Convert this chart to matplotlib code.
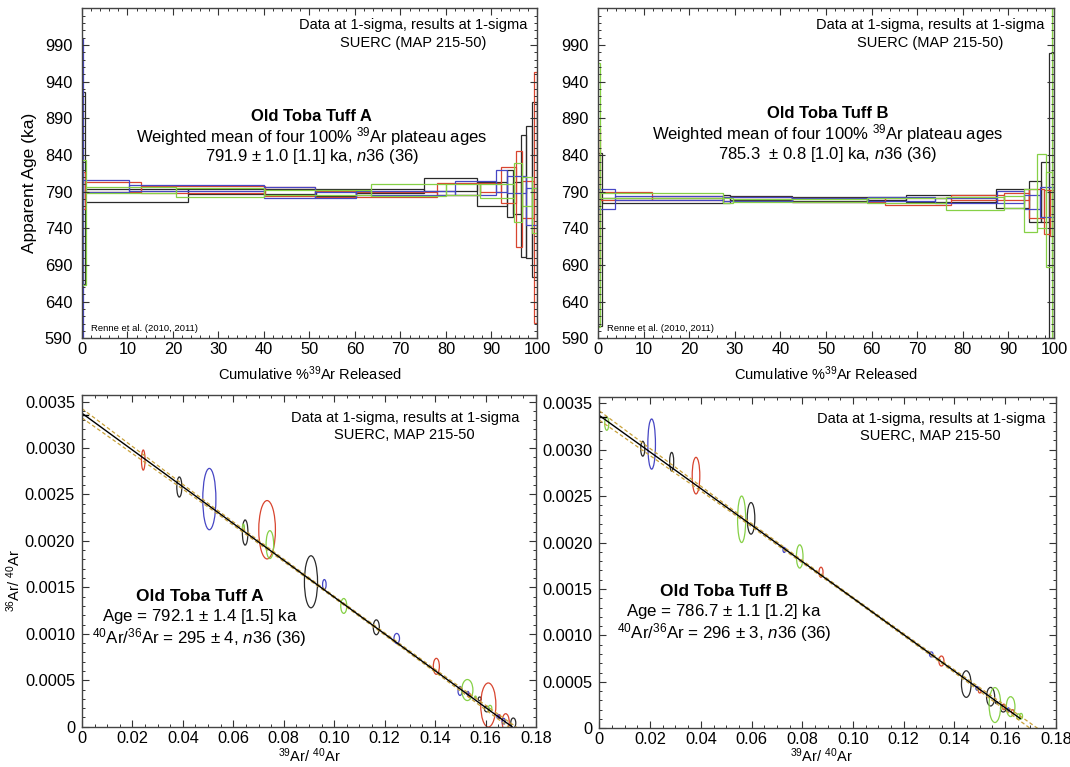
import numpy as np
import matplotlib
matplotlib.use('Agg')
import matplotlib.pyplot as plt
from matplotlib.patches import Rectangle, Ellipse
from matplotlib.ticker import MultipleLocator, FixedLocator, FuncFormatter

plt.rcParams['font.family'] = ['Liberation Sans', 'DejaVu Sans']
plt.rcParams['mathtext.fontset'] = 'custom'
plt.rcParams['mathtext.rm'] = 'Liberation Sans'
plt.rcParams['mathtext.it'] = 'Liberation Sans:italic'

BLACK = '#2a2a2a'
RED = '#d8452f'
BLUE = '#4646c4'
GREEN = '#86d046'
GOLD = '#c9a23a'

#----- age spectra, Old Toba Tuff A (cum % 39Ar edges, age ka, 1s err) -----
A_black_edges = [0, 0.7, 23.4, 51.4, 60.3, 75.2, 86.8, 93.4, 94.8, 96.6, 97.6, 99.0, 100]
A_black_age = [795, 784.5, 790, 789, 791, 799.5, 787, 788, 781, 784, 789, 793]
A_black_err = [131, 8.5, 3, 5, 2.5, 8.5, 16, 32, 22, 83, 90, 120]

A_red_edges = [0, 0.7, 12.9, 40.2, 51.3, 60.3, 78.0, 87.5, 92.2, 95.5, 96.7, 99.4, 100]
A_red_age = [792, 796, 793, 790, 787, 786, 794, 796, 799, 780, 779, 782]
A_red_err = [25, 7, 5, 6, 4, 3.5, 8, 6, 24, 65, 25, 171]

A_blue_edges = [0, 0.3, 10.3, 40.0, 51.3, 60.3, 82.0, 90.9, 93.5, 97.6, 100]
A_blue_age = [795, 798, 795, 789, 785, 788, 795, 804, 800, 770]
A_blue_err = [205, 8, 4.5, 7, 4, 3, 10, 15, 12, 25]

A_green_edges = [0, 0.8, 20.7, 40.0, 63.5, 80.0, 87.5, 95.0, 96.7, 99.0, 100]
A_green_age = [748, 792, 789, 789, 792.5, 793, 791, 789, 790, 764]
A_green_err = [85, 4, 6, 3, 8.5, 8, 9, 40, 20, 31]

#----- age spectra, Old Toba Tuff B -----
B_black_edges = [0, 0.8, 27.3, 29.0, 42.5, 59.0, 67.5, 87.3, 94.5, 97.2, 98.8, 100]
B_black_age = [725, 778, 780, 781, 780, 781, 780.5, 781, 777, 790, 780]
B_black_err = [118, 4, 6, 3, 3, 2, 4.5, 13, 28, 41, 199]

B_red_edges = [0, 0.4, 11.8, 27.5, 42.5, 63.0, 77.5, 89.0, 94.5, 97.7, 99.2, 100]
B_red_age = [780, 784, 781, 780, 779, 776.5, 782, 783, 773.5, 762.5, 761]
B_red_err = [95, 6, 3, 3, 3, 5, 4, 5, 19.5, 30, 31]

B_blue_edges = [0, 3.7, 27.3, 42.5, 59.2, 74.0, 87.5, 93.5, 97.0, 100]
B_blue_age = [780, 781, 780, 779, 780, 778, 783, 776, 776]
B_blue_err = [13, 3, 3, 3, 3, 3.5, 8.5, 10, 20]

B_green_edges = [0, 0.4, 27.5, 29.5, 59.0, 76.3, 89.0, 93.5, 96.3, 98.2, 99.5, 100]
B_green_age = [785, 784.5, 778.5, 778, 778, 773.7, 776, 764.5, 790.5, 752, 800]
B_green_err = [180, 3, 3.5, 2, 3, 9.3, 8, 29.5, 50.5, 65, 250]

#----- isochron data, Old Toba Tuff A (39/40, 36/40, half widths) -----
iA_black_x = [0.0386, 0.0647, 0.0908, 0.1167, 0.1577, 0.1605, 0.1710]
iA_black_y = [0.00258, 0.00209, 0.00156, 0.00107, 0.00030, 0.00019, 0.00004]
iA_black_sx = [0.0010, 0.0011, 0.0026, 0.0012, 0.0006, 0.0009, 0.0010]
iA_black_sy = [0.000108, 0.000135, 0.00028, 0.00008, 0.00002, 0.00003, 0.000054]

iA_red_x = [0.0243, 0.0734, 0.1405, 0.1535, 0.1611, 0.1680, 0.1655]
iA_red_y = [0.00287, 0.00212, 0.00065, 0.00034, 0.000234, 0.00005, 0.00011]
iA_red_sx = [0.0007, 0.0033, 0.0012, 0.0005, 0.0030, 0.0014, 0.0004]
iA_red_sy = [0.000108, 0.000314, 0.000086, 0.00002, 0.000237, 0.00009, 0.00002]

iA_blue_x = [0.0505, 0.0961, 0.1248, 0.1499, 0.1530, 0.1650, 0.1672]
iA_blue_y = [0.00245, 0.00153, 0.00095, 0.000385, 0.00036, 0.000108, 0.00006]
iA_blue_sx = [0.0026, 0.0007, 0.0011, 0.0008, 0.0004, 0.0005, 0.0006]
iA_blue_sy = [0.00033, 0.000054, 0.000054, 0.000048, 0.00002, 0.00002, 0.00003]

iA_green_x = [0.0640, 0.0745, 0.1038, 0.1528, 0.1618, 0.1560]
iA_green_y = [0.00214, 0.00196, 0.0013, 0.000395, 0.0002, 0.00032]
iA_green_sx = [0.0004, 0.0015, 0.0012, 0.0022, 0.0007, 0.0003]
iA_green_sy = [0.00004, 0.00015, 0.00008, 0.000113, 0.00003, 0.00001]

#----- isochron data, Old Toba Tuff B -----
iB_black_x = [0.0171, 0.0285, 0.0598, 0.1447, 0.1543, 0.1566, 0.1593]
iB_black_y = [0.00301, 0.00287, 0.00226, 0.000476, 0.00034, 0.000276, 0.000215]
iB_black_sx = [0.0008, 0.0008, 0.0015, 0.0019, 0.0016, 0.0004, 0.0011]
iB_black_sy = [0.00008, 0.0001, 0.00017, 0.000143, 0.0001, 0.00001, 0.00004]

iB_red_x = [0.0381, 0.0874, 0.1349, 0.1500, 0.1595, 0.1630]
iB_red_y = [0.00272, 0.00168, 0.000724, 0.0004, 0.00023, 0.00018]
iB_red_sx = [0.0015, 0.0008, 0.0010, 0.0005, 0.0006, 0.0005]
iB_red_sy = [0.000197, 0.000054, 0.000054, 0.00002, 0.00003, 0.00002]

iB_blue_x = [0.0206, 0.0729, 0.1309, 0.1490, 0.1613]
iB_blue_y = [0.00306, 0.00192, 0.000795, 0.00043, 0.0002]
iB_blue_sx = [0.0015, 0.0005, 0.0007, 0.0005, 0.0004]
iB_blue_sy = [0.00027, 0.000027, 0.000027, 0.00002, 0.00002]

iB_green_x = [0.0029, 0.0561, 0.0790, 0.1560, 0.1622, 0.1653, 0.1663]
iB_green_y = [0.00328, 0.00225, 0.00185, 0.00025, 0.000233, 0.000125, 0.00013]
iB_green_sx = [0.0008, 0.0016, 0.0013, 0.0023, 0.0017, 0.0007, 0.0006]
iB_green_sy = [0.0000716, 0.00025, 0.000125, 0.000188, 0.000107, 0.00003, 0.00003]

# isochron fits: y-intercept (36/40), x-intercept (39/40), end of solid line
fitA = [0.003374, 0.1705, 0.1705]
fitB = [0.003367, 0.1713, 0.1660]
# error envelope (gold dashed), x positions and offsets from the fit line
envA_x = [0.0, 0.05, 0.10, 0.14, 0.1725]
envA_off = [0.00005, 0.00002, 0.00001, 0.000015, 0.00003]
envB_x = [0.0, 0.05, 0.10, 0.14, 0.1730]
envB_off = [0.00005, 0.00002, 0.00001, 0.000015, 0.00003]

TICK_FS = 11.8
NOTE_FS = 10.5
TITLE_FS = 12


def style_ax(ax):
    for s in ax.spines.values():
        s.set_color('#444444')
        s.set_linewidth(1.0)
    ax.tick_params(which='both', direction='in', top=True, right=True,
                   color='#333333', labelsize=TICK_FS)
    ax.tick_params(which='major', length=5, width=0.8)
    ax.tick_params(which='minor', length=2.5, width=0.7)


def spectrum(ax, edges, ages, errs, col):
    for i in range(len(ages)):
        r = Rectangle((edges[i], ages[i]-errs[i]), edges[i+1]-edges[i], 2*errs[i],
                      fill=False, edgecolor=col, lw=0.9)
        ax.add_patch(r)


def ellipses(ax, xs, ys, sx, sy, col):
    for i in range(len(xs)):
        e = Ellipse((xs[i], ys[i]), 2*sx[i], 2*sy[i], fill=False, edgecolor=col, lw=0.9)
        ax.add_patch(e)


fig = plt.figure(figsize=(10.7, 7.67), dpi=100)
axTL = fig.add_axes([0.0766, 0.559, 0.4252, 0.430])
axTR = fig.add_axes([0.5589, 0.559, 0.4262, 0.430])
axBL = fig.add_axes([0.0766, 0.0525, 0.4243, 0.4325])
axBR = fig.add_axes([0.5602, 0.0505, 0.4265, 0.4323])

#----- top panels: spectra -----
specs = [
    (axTL, [(A_black_edges, A_black_age, A_black_err, BLACK), (A_red_edges, A_red_age, A_red_err, RED),
            (A_blue_edges, A_blue_age, A_blue_err, BLUE), (A_green_edges, A_green_age, A_green_err, GREEN)],
     'SUERC (MAP 215-50)'),
    (axTR, [(B_black_edges, B_black_age, B_black_err, BLACK), (B_red_edges, B_red_age, B_red_err, RED),
            (B_blue_edges, B_blue_age, B_blue_err, BLUE), (B_green_edges, B_green_age, B_green_err, GREEN)],
     'SUERC (MAP 215-50)'),
]
for ax, runs, lab in specs:
    for ed, ag, er, c in runs:
        spectrum(ax, ed, ag, er, c)
    ax.set_xlim(0, 100)
    ax.set_ylim(590, 1040)
    ax.xaxis.set_major_locator(MultipleLocator(10))
    ax.xaxis.set_minor_locator(MultipleLocator(2))
    ax.yaxis.set_major_locator(FixedLocator(np.arange(590, 1000, 50)))
    ax.yaxis.set_minor_locator(MultipleLocator(10))
    style_ax(ax)
    ax.tick_params(axis='y', pad=7)
    ax.tick_params(axis='x', pad=3)
    ax.set_xlabel(r'Cumulative %$^{39}$Ar Released', fontsize=10.5)
    ax.xaxis.set_label_coords(0.5, -0.078)
    ax.text(0.728, 0.950, 'Data at 1-sigma, results at 1-sigma', transform=ax.transAxes,
            ha='center', va='center', fontsize=NOTE_FS)
    ax.text(0.728, 0.895, lab, transform=ax.transAxes, ha='center', va='center', fontsize=NOTE_FS)
    ax.text(0.02, 0.031, 'Renne et al. (2010, 2011)', transform=ax.transAxes,
            ha='left', va='center', fontsize=6.8)

axTL.text(0.505, 0.672, 'Old Toba Tuff A', transform=axTL.transAxes, ha='center', va='center',
          fontsize=TITLE_FS, fontweight='bold')
axTL.text(0.505, 0.611, r'Weighted mean of four 100% $^{39}$Ar plateau ages', transform=axTL.transAxes,
          ha='center', va='center', fontsize=TITLE_FS)
axTL.text(0.505, 0.551, r'791.9 $\pm$ 1.0 [1.1] ka, $n$36 (36)', transform=axTL.transAxes,
          ha='center', va='center', fontsize=TITLE_FS)
axTR.text(0.503, 0.681, 'Old Toba Tuff B', transform=axTR.transAxes, ha='center', va='center',
          fontsize=TITLE_FS, fontweight='bold')
axTR.text(0.503, 0.620, r'Weighted mean of four 100% $^{39}$Ar plateau ages', transform=axTR.transAxes,
          ha='center', va='center', fontsize=TITLE_FS)
axTR.text(0.503, 0.557, r'785.3  $\pm$ 0.8 [1.0] ka, $n$36 (36)', transform=axTR.transAxes,
          ha='center', va='center', fontsize=TITLE_FS)
axTL.set_ylabel('Apparent Age (ka)', fontsize=12.5)
axTL.yaxis.set_label_coords(-0.099, 0.47)

#----- bottom panels: isochrons -----
isos = [
    (axBL, [(iA_black_x, iA_black_y, iA_black_sx, iA_black_sy, BLACK),
            (iA_red_x, iA_red_y, iA_red_sx, iA_red_sy, RED),
            (iA_blue_x, iA_blue_y, iA_blue_sx, iA_blue_sy, BLUE),
            (iA_green_x, iA_green_y, iA_green_sx, iA_green_sy, GREEN)], fitA, envA_x, envA_off),
    (axBR, [(iB_black_x, iB_black_y, iB_black_sx, iB_black_sy, BLACK),
            (iB_red_x, iB_red_y, iB_red_sx, iB_red_sy, RED),
            (iB_blue_x, iB_blue_y, iB_blue_sx, iB_blue_sy, BLUE),
            (iB_green_x, iB_green_y, iB_green_sx, iB_green_sy, GREEN)], fitB, envB_x, envB_off),
]
for ax, runs, fit, ex, eo in isos:
    y0, x0, xend = fit
    ex = np.array(ex)
    eo = np.array(eo)
    yl = y0 * (1 - ex / x0)
    ax.plot(ex, yl + eo, color=GOLD, lw=0.9, ls=(0, (3, 2)))
    ax.plot(ex, yl - eo, color=GOLD, lw=0.9, ls=(0, (3, 2)))
    ax.plot([0, xend], [y0, y0 * (1 - xend / x0)], color='black', lw=1.0)
    ax.plot([0, 0.0025], [y0 - 0.00002, y0 - 0.00002], color='black', lw=1.0)
    for xs, ys, sx, sy, c in runs:
        ellipses(ax, xs, ys, sx, sy, c)
    ax.set_xlim(0, 0.18)
    ax.set_ylim(0, 0.00357)
    ax.xaxis.set_major_locator(MultipleLocator(0.02))
    ax.xaxis.set_minor_locator(MultipleLocator(0.005))
    ax.yaxis.set_major_locator(FixedLocator(np.arange(0, 0.00351, 0.0005)))
    ax.yaxis.set_minor_locator(MultipleLocator(0.0001))
    ax.xaxis.set_major_formatter(FuncFormatter(lambda v, p: '0' if abs(v) < 1e-9 else '%.2f' % v))
    ax.yaxis.set_major_formatter(FuncFormatter(lambda v, p: '0' if abs(v) < 1e-9 else '%.4f' % v))
    style_ax(ax)
    ax.tick_params(axis='y', pad=5)
    ax.tick_params(axis='x', pad=3)
    ax.set_xlabel(r'$^{39}$Ar/ $^{40}$Ar', fontsize=10.5)

axBL.xaxis.set_label_coords(0.502, -0.058)
axBR.xaxis.set_label_coords(0.487, -0.055)
axBL.set_ylabel(r'$^{36}$Ar/ $^{40}$Ar', fontsize=10.5)
axBL.yaxis.set_label_coords(-0.13, 0.442)

axBL.text(0.711, 0.930, 'Data at 1-sigma, results at 1-sigma', transform=axBL.transAxes,
          ha='center', va='center', fontsize=NOTE_FS)
axBL.text(0.711, 0.879, 'SUERC, MAP 215-50', transform=axBL.transAxes, ha='center', va='center',
          fontsize=NOTE_FS)
axBR.text(0.726, 0.932, 'Data at 1-sigma, results at 1-sigma', transform=axBR.transAxes,
          ha='center', va='center', fontsize=NOTE_FS)
axBR.text(0.726, 0.881, 'SUERC, MAP 215-50', transform=axBR.transAxes, ha='center', va='center',
          fontsize=NOTE_FS)

axBL.text(0.259, 0.394, 'Old Toba Tuff A', transform=axBL.transAxes, ha='center', va='center',
          fontsize=12.5, fontweight='bold')
axBL.text(0.259, 0.332, r'Age = 792.1 $\pm$ 1.4 [1.5] ka', transform=axBL.transAxes,
          ha='center', va='center', fontsize=12.2)
axBL.text(0.259, 0.270, r'$^{40}$Ar/$^{36}$Ar = 295 $\pm$ 4, $n$36 (36)', transform=axBL.transAxes,
          ha='center', va='center', fontsize=12.2)
axBR.text(0.273, 0.412, 'Old Toba Tuff B', transform=axBR.transAxes, ha='center', va='center',
          fontsize=12.5, fontweight='bold')
axBR.text(0.273, 0.352, r'Age = 786.7 $\pm$ 1.1 [1.2] ka', transform=axBR.transAxes,
          ha='center', va='center', fontsize=12.2)
axBR.text(0.273, 0.288, r'$^{40}$Ar/$^{36}$Ar = 296 $\pm$ 3, $n$36 (36)', transform=axBR.transAxes,
          ha='center', va='center', fontsize=12.2)

fig.savefig('out.png', dpi=100)
